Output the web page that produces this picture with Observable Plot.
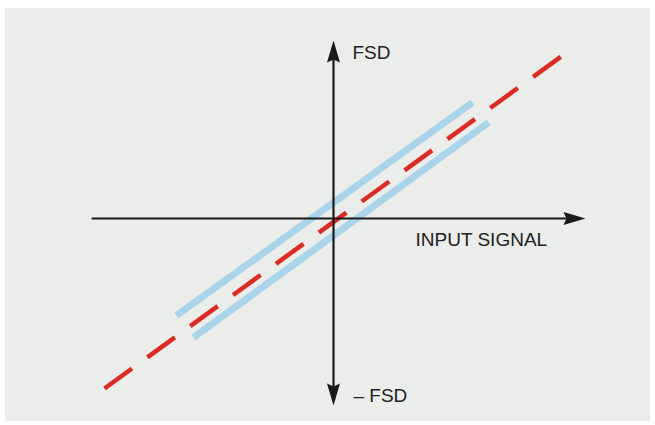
<!DOCTYPE html>
<html>
<head>
<meta charset="utf-8">
<script src="https://cdn.jsdelivr.net/npm/d3@7"></script>
<script src="https://cdn.jsdelivr.net/npm/@observablehq/plot@0.6"></script>
<style>
  html, body { margin: 0; padding: 0; background: #ffffff; }
  #wrap { position: relative; width: 655px; height: 425px; overflow: hidden; }
  #paper { position: absolute; left: 5px; top: 8px; width: 645px; height: 413px; background: #eaede9; }
  #chart { position: absolute; left: 0; top: 0; }
  #chart svg { background: transparent !important; }
</style>
</head>
<body>
<div id="wrap"><div id="paper"></div><div id="chart"></div></div>
<script>
// Ideal response (red dashed) and tolerance band edges (blue), in signal units
const idealX = [-2.29, 2.29];
const idealY = [-1.70, 1.63];
const upperBandX = [-1.57, 1.39];
const upperBandY = [-0.97, 1.16];
const lowerBandX = [-1.40, 1.55];
const lowerBandY = [-1.19, 0.96];

// Axes extents
const xAxisX = [-2.41, 2.42];
const yAxisY = [-1.75, 1.66];
const arrowX = [0, 2.52, 0];
const arrowY = [1.78, 0, -1.87];
const arrowAngle = [0, 90, 180];

// Labels
const labelText = ["FSD", "INPUT SIGNAL", "– FSD"];
const labelX = [0.19, 0.82, 0.20];
const labelY = [1.66, -0.215, -1.77];

const toPts = (xs, ys) => xs.map((x, i) => ({x, y: ys[i]}));
const ideal = toPts(idealX, idealY);
const upper = toPts(upperBandX, upperBandY);
const lower = toPts(lowerBandX, lowerBandY);
const xAxis = xAxisX.map(x => ({x, y: 0}));
const yAxis = yAxisY.map(y => ({x: 0, y}));
const arrows = arrowX.map((x, i) => ({x, y: arrowY[i], a: arrowAngle[i]}));
const labels = labelText.map((t, i) => ({t, x: labelX[i], y: labelY[i]}));

// Dart-shaped arrowhead, tip at origin pointing up
const dart = {
  draw(ctx) {
    ctx.moveTo(0, 0);
    ctx.lineTo(6.5, 22);
    ctx.lineTo(0, 19);
    ctx.lineTo(-6.5, 22);
    ctx.closePath();
  }
};

const chart = Plot.plot({
  width: 655,
  height: 425,
  margin: 0,
  x: {domain: [-3.33, 3.22], axis: null},
  y: {domain: [-2.07, 2.18], axis: null},
  style: {background: "transparent"},
  marks: [
    Plot.line(upper, {x: "x", y: "y", stroke: "#a9d4ea", strokeWidth: 7, strokeLinecap: "butt"}),
    Plot.line(lower, {x: "x", y: "y", stroke: "#a9d4ea", strokeWidth: 7, strokeLinecap: "butt"}),
    Plot.line(ideal, {x: "x", y: "y", stroke: "#dc2a24", strokeWidth: 4.5, strokeDasharray: "34,19", strokeLinecap: "butt"}),
    Plot.line(xAxis, {x: "x", y: "y", stroke: "#1a1a1a", strokeWidth: 2.2}),
    Plot.line(yAxis, {x: "x", y: "y", stroke: "#1a1a1a", strokeWidth: 2.2}),
    Plot.dot(arrows, {x: "x", y: "y", rotate: "a", symbol: dart, r: 5, fill: "#1a1a1a", stroke: "none"}),
    Plot.text(labels, {x: "x", y: "y", text: "t", textAnchor: "start", lineAnchor: "middle",
      fontSize: 19, fontFamily: "Liberation Sans, Arial, sans-serif", fill: "#222"})
  ]
});
document.getElementById("chart").appendChild(chart);
</script>
</body>
</html>
